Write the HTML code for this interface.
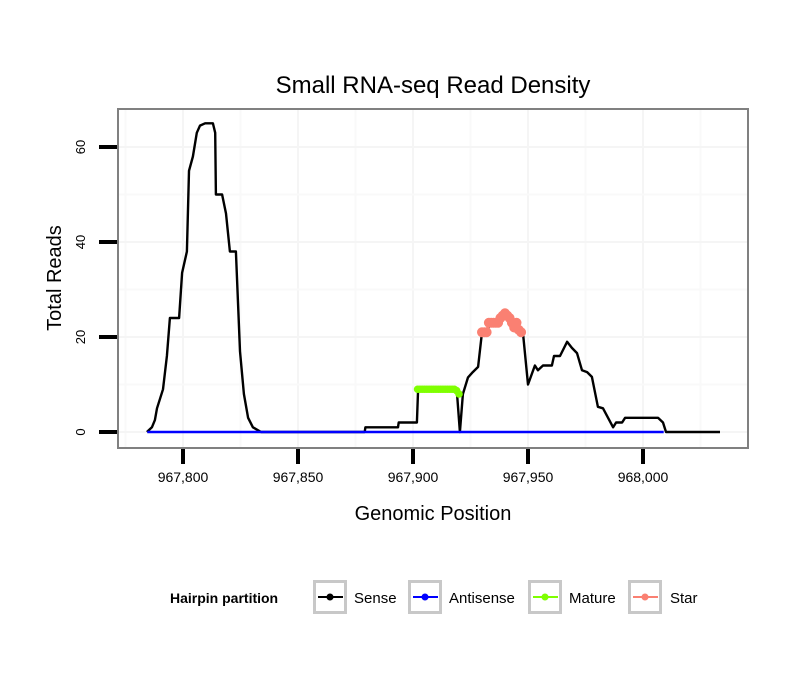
<!DOCTYPE html>
<html><head><meta charset="utf-8">
<style>
html,body{margin:0;padding:0;background:#fff;}
svg{display:block;font-family:"Liberation Sans",sans-serif;}
</style></head>
<body>
<svg id="chart" width="810" height="690" viewBox="0 0 810 690" xmlns="http://www.w3.org/2000/svg">
<rect x="0" y="0" width="810" height="690" fill="#fff"/>
<text x="433" y="93" font-size="24" text-anchor="middle">Small RNA-seq Read Density</text>
<rect x="118" y="109" width="630" height="339" fill="#fff"/>
<g id="grid"></g>
<g id="series"></g>
<rect x="118" y="109" width="630" height="339" fill="none" stroke="#808080" stroke-width="2"/>
<g id="axes"></g>
<text x="433" y="520" font-size="20" text-anchor="middle">Genomic Position</text>
<text transform="translate(61,278) rotate(-90)" font-size="20" text-anchor="middle">Total Reads</text>
<g id="legend">
<text x="170" y="603" font-size="14" font-weight="bold">Hairpin partition</text>
</g>
</svg>
<script>
const xTicks=[967800,967850,967900,967950,968000];
const xTickLabels=["967,800","967,850","967,900","967,950","968,000"];
const yTicks=[0,20,40,60];
const yTickLabels=["0","20","40","60"];
const sensePos=[967784.3,967786.5,967787.8,967788.7,967790,967791.3,967793,967794.3,967798.3,967799.6,967801.7,967802.6,967804.3,967806,967807.4,967809.6,967813,967814,967814.3,967817,967818.7,967820.4,967823,967824.8,967826.5,967828.3,967830.4,967833.9,967879,967879.3,967893.5,967893.8,967901.7,967902.2,967919,967920.4,967921.7,967923.9,967926,967928.3,967930,967932.2,967933.5,967937.8,967939.1,967940,967941.3,967943,967943.9,967945.2,967946,967947.4,967947.8,967950,967953,967954.3,967956.5,967960.4,967961.3,967963.9,967967,967969.1,967971.3,967973.5,967975.7,967977.8,967980.4,967982.6,967987,967988.3,967990.9,967992.2,968006.5,968008.7,968010,968033.5];
const senseVal=[0,1,2.5,5,7,9,16,24,24,33.5,38,55,58,63,64.5,65,65,63,50,50,46,38,38,17,8,3,1,0,0,1,1,2,2,9,9,0,8,11.5,12.6,13.7,21,21,23,23,23.5,24.5,25,24.5,23.5,23,21.7,21,21,10,14,13,14,14,16,16,19,17.7,16.6,13,12.6,11.6,5.3,5,1,2,2,3,3,2,0,0];
const antiPos=[967784.5,968009];
const antiVal=[0,0];
const maturePos=[967902,967903,967904,967905,967906,967907,967908,967909,967910,967911,967912,967913,967914,967915,967916,967917,967918,967919,967920];
const matureVal=[9,9,9,9,9,9,9,9,9,9,9,9,9,9,9,9,9,8.7,8];
const starPos=[967930,967931,967932,967933,967934,967935,967936,967937,967938,967939,967940,967941,967942,967943,967944,967945,967946,967947];
const starVal=[21,21,21,23,23,23,23,23,24,24.5,25,24.5,24,23,22,23,21.5,21];

const NS="http://www.w3.org/2000/svg";
const X0=183, XPU=2.3, Y0=432, YPU=4.75;
function xs(v){return X0+(v-967800)*XPU;}
function ys(v){return Y0-v*YPU;}
function mk(tag,attrs,parent){const e=document.createElementNS(NS,tag);for(const k in attrs)e.setAttribute(k,attrs[k]);parent.appendChild(e);return e;}
const grid=document.getElementById('grid'),series=document.getElementById('series'),axes=document.getElementById('axes'),legend=document.getElementById('legend');
for(let v=967775;v<=968030;v+=25){const x=xs(v);if(x<119||x>747)continue;
 const l=mk('line',{x1:x,x2:x,y1:110,y2:447,stroke:v%50===0?'#f5f5f5':'#f9f9f9','stroke-width':2},grid);
 
 }
for(let v=0;v<=70;v+=10){const y=ys(v);if(y<110)continue;
 const l=mk('line',{x1:119,x2:747,y1:y,y2:y,stroke:v%20===0?'#f5f5f5':'#f9f9f9','stroke-width':2},grid);
 
 }
xTicks.forEach((v,i)=>{const x=xs(v);
 const t=mk('line',{x1:x,x2:x,y1:449,y2:464,stroke:'#000','stroke-width':4},axes);
 
 
 const tx=mk('text',{x:x,y:482,'font-size':14,'text-anchor':'middle'},axes);tx.textContent=xTickLabels[i];
 
 });
yTicks.forEach((v,i)=>{const y=ys(v);
 const t=mk('line',{x1:99,x2:117,y1:y,y2:y,stroke:'#000','stroke-width':4},axes);
 
 
 const tx=mk('text',{transform:`translate(85,${y}) rotate(-90)`,'font-size':13,'text-anchor':'middle'},axes);tx.textContent=yTickLabels[i];
 
 });
function line(p,v,color,name,w){const d=p.map((q,i)=>(i?'L':'M')+xs(q).toFixed(1)+','+ys(v[i]).toFixed(1)).join('');
 const e=mk('path',{d:d,fill:'none',stroke:color,'stroke-width':w||2,'stroke-linejoin':'round'},series);
 
 }
function pts(p,v,color,name){line(p,v,color,name+'-line',3);p.forEach((q,i)=>{const c=mk('circle',{cx:xs(q),cy:ys(v[i]),r:name==='star'?5:3.8,fill:color},series);
 
 });}
line(sensePos,senseVal,'#000','sense-line',2.4);
line(antiPos,antiVal,'#0000ff','antisense-line',2.4);
pts(maturePos,matureVal,'#7fff00','mature');
pts(starPos,starVal,'#fa8072','star');
const items=[["Sense","#000",313,354],["Antisense","#0000ff",408,449],["Mature","#7fff00",528,569],["Star","#fa8072",628,670]];
items.forEach(it=>{
 const b=mk('rect',{x:it[2]+1.5,y:581.5,width:31,height:31,fill:'#fff',stroke:'#c8c8c8','stroke-width':3},legend);
 
 
 mk('line',{x1:it[2]+5,x2:it[2]+30,y1:597,y2:597,stroke:it[1],'stroke-width':2},legend);
 mk('circle',{cx:it[2]+17,cy:597,r:3.5,fill:it[1]},legend);
 const t=mk('text',{x:it[3],y:603,'font-size':15},legend);t.textContent=it[0];
 
 });
</script>
</body></html>
